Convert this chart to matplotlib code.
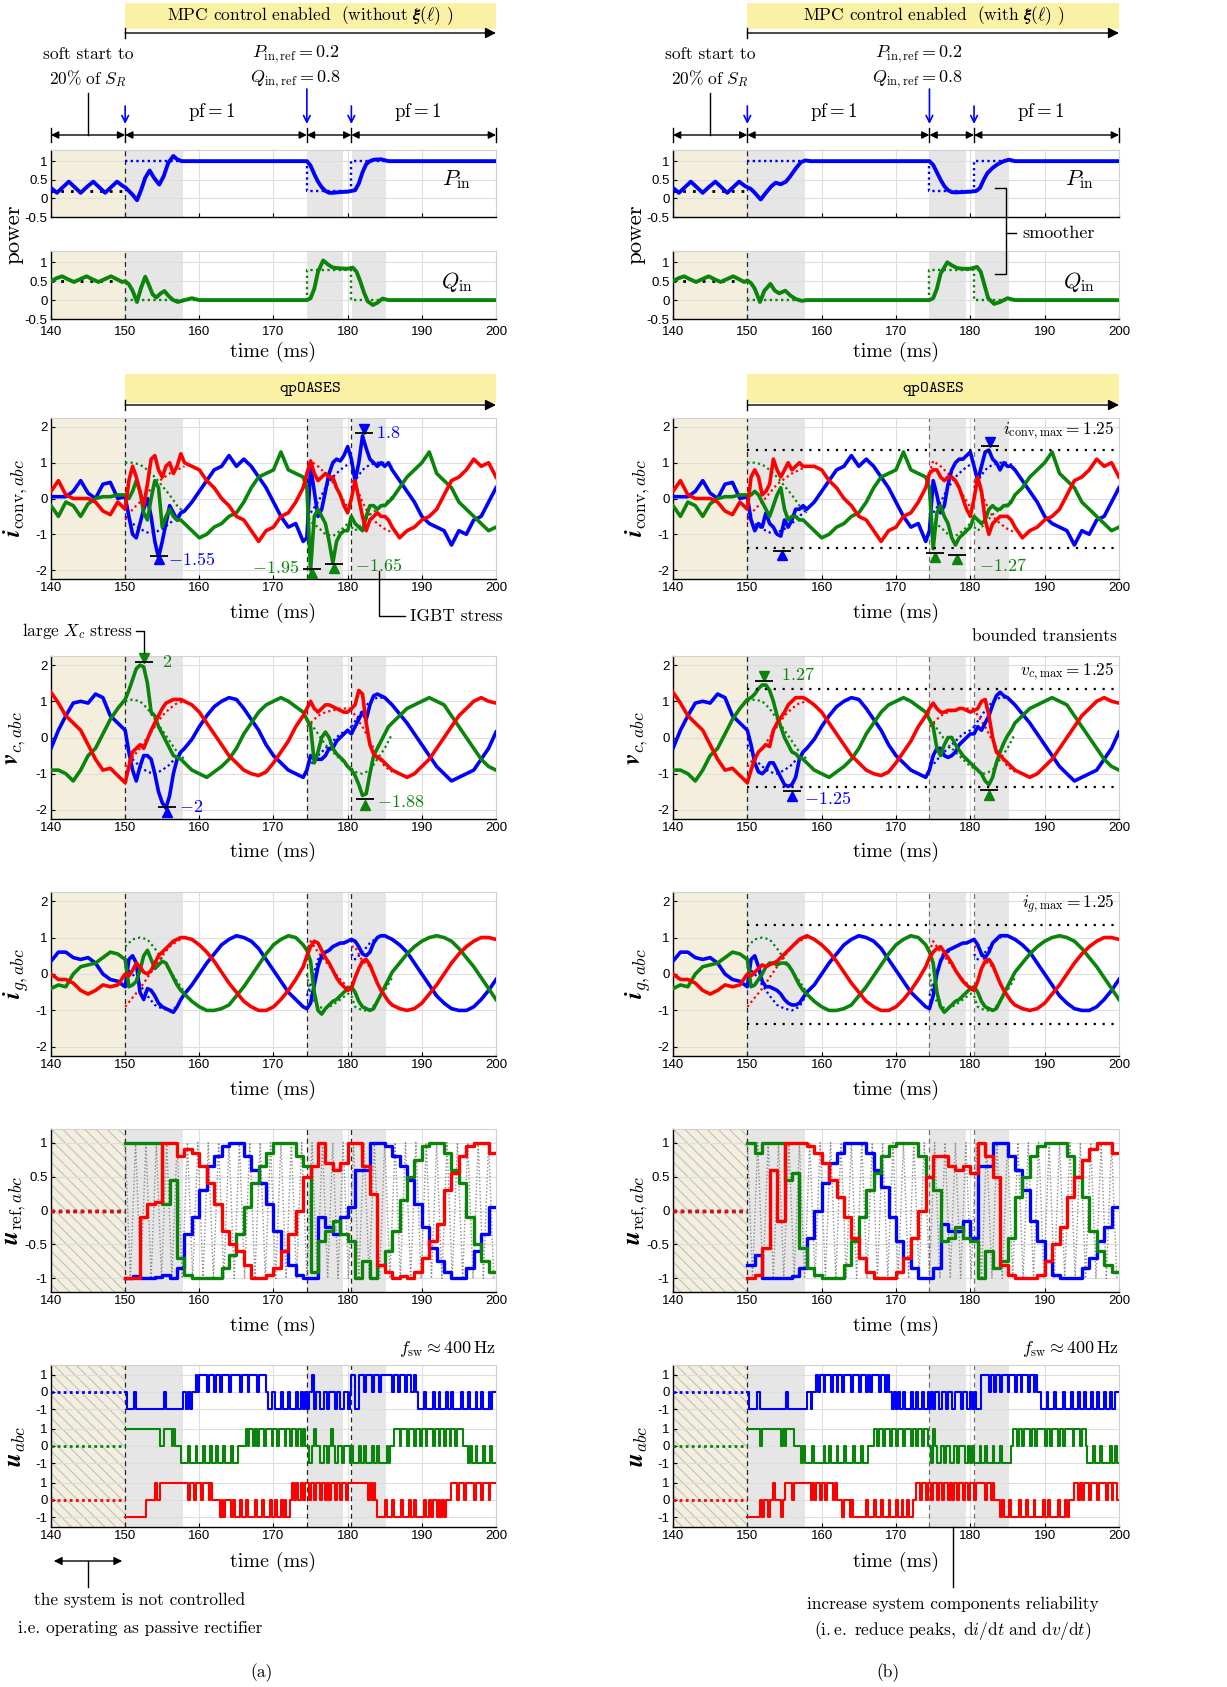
import numpy as np
import matplotlib
matplotlib.use("Agg")
import matplotlib.pyplot as plt
from matplotlib.lines import Line2D
from matplotlib.patches import Rectangle, FancyArrowPatch
from matplotlib.transforms import blended_transform_factory

plt.rcParams["font.family"] = ["Liberation Sans Narrow", "Liberation Sans", "DejaVu Sans"]
plt.rcParams["mathtext.fontset"] = "cm"
plt.rcParams["axes.unicode_minus"] = False
plt.rcParams["hatch.linewidth"] = 0.8

# ------------------------------------------------------------------ data
# power traces, (time ms, value)
P_soft = [(140, 0.28), (140.8, 0.15), (141.6, 0.3), (142.4, 0.45), (143.2, 0.3), (144.0, 0.15), (144.8, 0.3),
          (145.7, 0.45), (146.5, 0.3), (147.3, 0.15), (148.1, 0.3), (148.9, 0.45), (149.7, 0.33)]
Q_soft = [(140, 0.5), (140.75, 0.58), (141.5, 0.63), (142.3, 0.55), (143.1, 0.48), (144.0, 0.56), (144.8, 0.63),
          (145.6, 0.55), (146.4, 0.48), (147.3, 0.56), (148.1, 0.63), (148.9, 0.55), (149.6, 0.48)]
P_a_ctrl = [(150, 0.3), (150.5, 0.2), (151.0, 0.1), (151.6, -0.05), (152.2, 0.25), (152.7, 0.55), (153.3, 0.75),
            (153.9, 0.55), (154.6, 0.37), (155.2, 0.6), (155.8, 0.95), (156.5, 1.14), (157.0, 1.05), (157.6, 1.0),
            (158.5, 1.0), (174.5, 1.0), (175.0, 0.88), (175.5, 0.65), (176.0, 0.45), (176.5, 0.3), (177.0, 0.2),
            (177.5, 0.15), (178.0, 0.15), (179.0, 0.17), (180.0, 0.18), (180.5, 0.2), (181.0, 0.22), (181.5, 0.4),
            (182.0, 0.7), (182.5, 0.92), (183.0, 1.0), (183.5, 1.04), (184.5, 1.05), (185.5, 1.0), (200, 1.0)]
Q_a_ctrl = [(150, 0.5), (150.5, 0.42), (151.0, 0.25), (151.6, -0.05), (152.1, 0.3), (152.7, 0.62), (153.2, 0.4),
            (153.7, 0.15), (154.2, 0.07), (154.8, 0.18), (155.3, 0.24), (155.9, 0.1), (156.5, 0.0), (157.1, -0.05),
            (158, 0.0), (159, 0.05), (160, 0.0), (174.5, 0.0), (175, 0.05), (175.5, 0.3), (176, 0.75), (176.7, 1.05),
            (177.3, 0.95), (178, 0.86), (179, 0.84), (180, 0.83), (180.7, 0.86), (181.2, 0.75), (181.7, 0.5),
            (182.2, 0.2), (182.7, -0.03), (183.4, -0.13), (184, -0.07), (184.7, 0.04), (185.5, 0.0), (200, 0.0)]
P_b_ctrl = [(150, 0.3), (150.5, 0.25), (151.0, 0.15), (151.8, -0.03), (152.5, 0.15), (153.2, 0.32), (153.8, 0.42),
            (154.5, 0.38), (155.2, 0.45), (155.8, 0.6), (156.5, 0.8), (157.2, 0.97), (157.8, 1.02), (158.5, 1.0),
            (174.5, 1.0), (175, 0.9), (175.5, 0.7), (176, 0.5), (176.5, 0.33), (177, 0.22), (177.5, 0.17),
            (178, 0.16), (179, 0.17), (180, 0.18), (180.8, 0.2), (181.3, 0.28), (181.8, 0.5), (182.3, 0.68),
            (183, 0.82), (183.7, 0.92), (184.5, 1.0), (185.2, 1.04), (186, 1.0), (200, 1.0)]
Q_b_ctrl = [(150, 0.52), (150.5, 0.45), (151, 0.3), (151.7, -0.05), (152.3, 0.25), (153.1, 0.43), (153.7, 0.25),
            (154.3, 0.18), (155.1, 0.25), (155.8, 0.12), (156.5, 0.03), (157.3, -0.02), (158, 0.0), (174.5, 0.0),
            (175, 0.05), (175.5, 0.3), (176, 0.7), (176.9, 1.0), (177.5, 0.92), (178.2, 0.85), (179, 0.83),
            (180, 0.83), (180.9, 0.88), (181.4, 0.75), (181.9, 0.4), (182.4, 0.05), (183.2, -0.1), (184, -0.05),
            (185, 0.05), (186, 0.0), (200, 0.0)]
ref_switch = [150, 174.5, 180.5, 200]
P_ref_level = [1.0, 0.2, 1.0]
Q_ref_level = [0.0, 0.8, 0.0]
P_soft_ref = 0.2
Q_soft_ref = 0.5

# sample grid of the phase waveforms: 140..150 (1 ms), 150.5..158 (0.5), 159..174 (1), 174.5..186 (0.5), 187..200 (1)
T_W = np.concatenate([np.arange(140, 150.1, 1.0), np.arange(150.5, 158.1, 0.5), np.arange(159, 174.1, 1.0),
                      np.arange(174.5, 186.1, 0.5), np.arange(187, 200.1, 1.0)])

# converter currents
ic_pre_blue = [0.05, 0.05, 0.05, 0.2, 0.5, 0.15, 0.0, 0.4, 0.45, 0.0, 0.05]
ic_pre_green = [-0.2, -0.5, -0.1, -0.2, -0.5, -0.15, 0.0, 0.05, 0.05, 0.1, 0.1]
ic_pre_red = [0.2, 0.5, 0.1, 0.0, 0.0, 0.0, -0.1, -0.35, -0.45, -0.1, -0.3]
ic_mid_blue = [-0.1, 0.2, 0.5, 0.8, 0.9, 1.2, 0.9, 1.1, 0.9, 0.6, 0.3, -0.1, -0.5, -0.8, -0.7, -1.2]
ic_mid_green = [-0.9, -1.1, -1.0, -0.8, -0.7, -0.5, -0.4, -0.1, 0.3, 0.6, 0.7, 0.8, 1.3, 0.8, 0.7, 0.6]
ic_mid_red = [0.9, 0.8, 0.5, 0.3, 0.0, -0.2, -0.5, -0.6, -0.9, -1.2, -0.9, -0.8, -0.5, -0.4, -0.1, 0.3]
ic_end_blue = [0.5, 0.2, -0.1, -0.5, -0.7, -0.8, -0.9, -1.3, -0.9, -1.0, -0.6, -0.5, -0.1, 0.3]
ic_end_green = [0.3, 0.6, 0.8, 1.0, 1.3, 0.7, 0.5, 0.3, -0.1, -0.3, -0.5, -0.7, -0.9, -0.8]
ic_end_red = [-1.1, -0.9, -0.8, -0.6, -0.5, -0.3, 0.1, 0.5, 0.6, 0.8, 1.1, 0.9, 1.0, 0.6]
ic_a_tr1_blue = [-0.5, -1.0, -1.1, -0.7, -0.3, 0.0, -0.5, -1.2, -1.65, -1.2, -0.7, -0.2, -0.4, -0.6, -0.4, -0.35]
ic_a_tr1_green = [0.0, 0.2, 0.5, 0.2, -0.4, -0.6, 0.0, 0.5, 0.3, -0.8, -0.5, -0.3, -0.5, -0.6, -0.6, -0.7]
ic_a_tr1_red = [0.5, 0.9, 0.6, 0.2, -0.2, 0.4, 1.1, 1.2, 0.8, 0.6, 0.9, 1.0, 0.7, 0.9, 1.25, 1.0]
ic_a_tr2_blue = [-1.1, 0.9, 0.2, -0.5, -0.3, 0.2, 0.7, 1.0, 1.1, 1.05, 1.2, 1.45, 1.1, 0.5, 1.0, 1.75, 1.4, 1.1,
                 1.0, 0.9, 1.0, 0.9, 1.0, 0.8]
ic_a_tr2_green = [0.3, -2.0, -0.5, -0.3, -0.5, -0.7, -1.2, -1.8, -1.2, -1.0, -0.9, -0.9, -0.5, -0.7, -0.8, -0.9,
                  -0.5, -0.2, -0.2, -0.3, -0.2, -0.2, -0.1, 0.0]
ic_a_tr2_red = [0.7, 1.05, 0.7, 0.5, 0.6, 0.7, 0.6, 0.6, 0.3, 0.1, -0.2, -0.4, 0.0, 0.5, 0.0, -0.5, -0.9, -0.6,
                -0.5, -0.4, -0.5, -0.5, -0.6, -0.8]
ic_b_tr1_blue = [-0.6, -0.9, -0.7, -0.8, -0.4, -0.7, -0.8, -1.0, -1.05, -0.6, -0.8, -0.6, -0.3, -0.3, -0.2, -0.3]
ic_b_tr1_green = [0.1, 0.2, 0.1, -0.1, -0.3, -0.5, -0.2, 0.1, 0.3, -0.3, -0.6, -0.5, -0.5, -0.6, -0.6, -0.7]
ic_b_tr1_red = [0.6, 0.8, 0.6, 0.1, 0.2, 0.4, 1.1, 0.8, 0.6, 0.8, 1.0, 0.8, 0.9, 1.0, 0.9, 0.9]
ic_b_tr2_blue = [-0.9, 0.5, 0.1, -0.4, -0.2, 0.4, 0.8, 1.0, 1.1, 1.1, 1.2, 1.3, 0.9, 0.5, 0.9, 1.3, 1.35, 1.1,
                 1.0, 0.8, 1.0, 0.9, 0.9, 0.8]
ic_b_tr2_green = [0.3, -1.4, -0.4, -0.2, -0.5, -0.7, -1.1, -1.3, -1.1, -1.0, -0.9, -0.8, -0.5, -0.6, -0.7, -0.6,
                  -0.3, -0.2, -0.3, -0.3, -0.2, -0.2, -0.1, 0.1]
ic_b_tr2_red = [0.7, 0.8, 0.8, 0.6, 0.5, 0.6, 0.6, 0.5, 0.3, 0.0, -0.3, -0.5, 0.0, 0.6, 0.2, -0.6, -1.0, -0.7,
                -0.6, -0.5, -0.5, -0.5, -0.6, -0.8]

# capacitor voltages
vc_pre_blue = [-0.3, 0.2, 0.6, 0.95, 1.0, 0.95, 1.2, 1.1, 0.6, 0.4, 0.2]
vc_pre_green = [-0.9, -0.9, -1.0, -1.2, -0.9, -0.5, -0.3, 0.1, 0.5, 0.8, 1.05]
vc_pre_red = [1.25, 0.95, 0.6, 0.4, 0.2, -0.2, -0.6, -0.9, -0.85, -1.05, -1.25]
vc_mid_blue = [-0.05, 0.3, 0.6, 0.85, 1.0, 1.1, 1.05, 0.8, 0.5, 0.2, -0.2, -0.5, -0.7, -0.9, -1.0, -1.1]
vc_mid_green = [-0.9, -1.0, -1.1, -0.95, -0.8, -0.6, -0.3, 0.1, 0.4, 0.7, 0.9, 1.0, 1.1, 1.0, 0.85, 0.7]
vc_mid_red = [0.9, 0.7, 0.4, 0.1, -0.2, -0.5, -0.7, -0.9, -1.0, -1.05, -0.95, -0.7, -0.4, -0.1, 0.3, 0.6]
vc_end_blue = [0.65, 0.4, 0.1, -0.2, -0.5, -0.8, -1.0, -1.2, -1.1, -1.0, -0.9, -0.6, -0.3, 0.15]
vc_end_green = [0.6, 0.8, 0.9, 1.0, 1.1, 1.0, 0.9, 0.6, 0.3, 0.0, -0.3, -0.6, -0.8, -0.9]
vc_end_red = [-1.0, -1.1, -1.0, -0.8, -0.6, -0.3, 0.0, 0.3, 0.6, 0.8, 1.0, 1.1, 1.0, 0.95]
vc_a_tr1_blue = [-0.4, -0.9, -1.2, -0.8, -0.5, -0.5, -0.6, -1.0, -1.5, -1.8, -1.95, -1.6, -1.0, -0.6, -0.4, -0.3]
vc_a_tr1_green = [1.3, 1.6, 1.9, 2.0, 1.95, 1.5, 0.7, 0.6, 0.3, 0.1, -0.1, -0.3, -0.5, -0.55, -0.6, -0.7]
vc_a_tr1_red = [-0.8, -0.4, -0.3, -0.2, -0.3, -0.05, 0.2, 0.4, 0.6, 0.8, 0.95, 1.0, 1.05, 1.05, 1.05, 1.0]
vc_a_tr2_blue = [-0.9, -0.5, -0.6, -0.6, -0.6, -0.5, -0.3, -0.3, -0.1, 0.0, 0.1, 0.2, 0.1, 0.3, 0.5, 0.7, 0.5, 0.9,
                 1.15, 1.2, 1.15, 1.1, 1.0, 0.9]
vc_a_tr2_green = [0.5, 0.3, -0.7, -0.4, 0.0, 0.15, 0.0, -0.3, -0.45, -0.55, -0.65, -0.8, -0.9, -1.05, -1.3, -1.6,
                  -1.55, -1.0, -0.5, -0.3, -0.1, 0.1, 0.3, 0.4]
vc_a_tr2_red = [0.8, 1.0, 0.8, 0.7, 0.8, 0.9, 0.9, 0.85, 0.8, 0.75, 0.7, 0.7, 0.8, 0.9, 1.3, 1.2, 0.4, -0.2, -0.45,
                -0.55, -0.6, -0.7, -0.8, -0.9]
vc_b_tr1_blue = [-0.2, -0.7, -0.95, -1.0, -0.9, -0.7, -0.7, -0.9, -1.1, -1.3, -1.35, -1.3, -1.1, -0.6, -0.4, -0.3]
vc_b_tr1_green = [1.1, 1.2, 1.35, 1.45, 1.45, 1.3, 1.0, 0.6, 0.3, 0.0, -0.2, -0.4, -0.45, -0.55, -0.6, -0.7]
vc_b_tr1_red = [-0.9, -0.6, -0.4, -0.3, -0.2, -0.25, 0.2, 0.4, 0.55, 0.7, 0.9, 1.0, 1.1, 1.1, 1.1, 1.05]
vc_b_tr2_blue = [-0.9, -0.5, -0.3, -0.3, -0.5, -0.55, -0.5, -0.4, -0.2, -0.1, 0.0, 0.1, 0.1, 0.3, 0.2, 0.4, 0.6,
                 0.9, 1.15, 1.25, 1.15, 1.1, 1.0, 0.9]
vc_b_tr2_green = [0.5, 0.3, -0.3, -0.5, -0.2, 0.0, 0.0, -0.2, -0.35, -0.5, -0.6, -0.7, -0.8, -0.9, -1.0, -1.2,
                  -1.3, -1.1, -0.7, -0.4, -0.15, 0.05, 0.2, 0.4]
vc_b_tr2_red = [0.8, 0.95, 0.8, 0.7, 0.7, 0.75, 0.75, 0.75, 0.8, 0.8, 0.75, 0.7, 0.75, 0.8, 1.0, 1.05, 0.6, 0.0,
                -0.4, -0.5, -0.6, -0.7, -0.8, -0.9]

# grid currents
ig_pre_blue = [0.35, 0.6, 0.6, 0.45, 0.4, 0.45, 0.3, 0.0, -0.15, -0.2, -0.35]
ig_pre_green = [-0.4, -0.3, -0.35, 0.0, 0.2, 0.25, 0.3, 0.45, 0.6, 0.55, 0.4]
ig_pre_red = [0.0, -0.15, -0.15, -0.25, -0.45, -0.55, -0.45, -0.3, -0.35, -0.3, 0.0]
ig_mid_blue = [-0.3, 0.0, 0.3, 0.55, 0.8, 0.95, 1.05, 1.0, 0.9, 0.7, 0.4, 0.1, -0.2, -0.5, -0.7, -0.9]
ig_mid_green = [-0.75, -0.9, -1.0, -1.0, -0.95, -0.85, -0.6, -0.35, -0.05, 0.25, 0.55, 0.8, 0.95, 1.05, 1.0, 0.8]
ig_mid_red = [0.95, 0.8, 0.6, 0.35, 0.05, -0.25, -0.5, -0.75, -0.9, -1.0, -1.0, -0.9, -0.7, -0.45, -0.15, 0.2]
ig_end_blue = [0.8, 0.6, 0.3, 0.0, -0.3, -0.6, -0.8, -0.95, -1.0, -1.0, -0.9, -0.7, -0.45, -0.15]
ig_end_green = [0.3, 0.55, 0.75, 0.9, 1.0, 1.05, 1.0, 0.9, 0.7, 0.45, 0.2, -0.1, -0.4, -0.7]
ig_end_red = [-0.95, -1.0, -0.95, -0.8, -0.55, -0.3, 0.0, 0.3, 0.55, 0.75, 0.9, 1.0, 1.0, 0.95]
ig_a_tr1_blue = [0.4, 0.5, 0.3, -0.5, -0.7, -0.4, -0.45, -0.6, -0.8, -0.9, -0.95, -1.0, -1.05, -0.9, -0.7, -0.55]
ig_a_tr1_green = [-0.35, -0.3, -0.2, 0.1, 0.5, 0.65, 0.4, 0.15, 0.25, 0.35, 0.3, 0.1, -0.1, -0.3, -0.45, -0.55]
ig_a_tr1_red = [-0.05, 0.1, 0.3, 0.2, 0.05, 0.0, 0.1, 0.3, 0.5, 0.6, 0.7, 0.8, 0.9, 0.95, 1.0, 1.0]
ig_a_tr2_blue = [-0.95, -0.8, -0.3, 0.2, 0.5, 0.6, 0.65, 0.75, 0.8, 0.85, 0.85, 0.9, 0.95, 0.9, 0.75, 0.55, 0.5,
                 0.6, 0.85, 1.0, 1.05, 1.05, 1.0, 0.95]
ig_a_tr2_green = [0.65, 0.35, -0.5, -1.0, -1.1, -0.95, -0.85, -0.75, -0.7, -0.6, -0.5, -0.4, -0.35, -0.5, -0.75,
                  -0.9, -0.95, -1.0, -0.95, -0.75, -0.55, -0.35, -0.15, 0.05]
ig_a_tr2_red = [0.5, 0.75, 0.9, 0.85, 0.65, 0.45, 0.3, 0.1, -0.1, -0.25, -0.35, -0.45, -0.4, -0.1, 0.15, 0.35, 0.4,
                0.25, 0.0, -0.25, -0.45, -0.6, -0.75, -0.85]
ig_b_tr1_blue = [0.4, 0.5, 0.2, -0.2, -0.35, -0.35, -0.4, -0.45, -0.55, -0.7, -0.8, -0.85, -0.85, -0.8, -0.65, -0.5]
ig_b_tr1_green = [-0.35, -0.3, -0.15, 0.0, 0.2, 0.3, 0.3, 0.25, 0.3, 0.3, 0.25, 0.1, -0.1, -0.3, -0.45, -0.55]
ig_b_tr1_red = [-0.05, 0.05, 0.15, 0.25, 0.2, 0.25, 0.3, 0.35, 0.45, 0.55, 0.65, 0.75, 0.85, 0.95, 1.0, 1.05]
ig_b_tr2_blue = [-0.95, -0.6, 0.0, 0.35, 0.55, 0.65, 0.7, 0.75, 0.8, 0.85, 0.85, 0.9, 0.95, 0.8, 0.55, 0.45, 0.6,
                 0.85, 0.95, 1.05, 1.05, 1.05, 1.0, 0.95]
ig_b_tr2_green = [0.6, 0.3, -0.5, -0.9, -1.05, -0.95, -0.85, -0.75, -0.7, -0.6, -0.5, -0.4, -0.35, -0.5, -0.75,
                  -0.9, -0.95, -1.0, -0.95, -0.75, -0.55, -0.35, -0.15, 0.05]
ig_b_tr2_red = [0.45, 0.6, 0.7, 0.75, 0.6, 0.45, 0.3, 0.1, -0.05, -0.2, -0.3, -0.4, -0.45, -0.2, 0.15, 0.35, 0.4,
                0.25, 0.0, -0.25, -0.45, -0.6, -0.75, -0.85]

# dotted references during the transients
R1_t = [150, 151, 152, 153, 154, 155, 156, 157, 158]
R2_t = [174.5, 175, 176, 177, 178, 179, 180, 180.5]
R3_t = [180.5, 181, 182, 183, 184, 185, 186]
ic_ref1_blue = [-0.5, -0.7, -0.85, -0.95, -0.95, -0.85, -0.7, -0.5, -0.3]
ic_ref1_green = [1.0, 1.0, 0.95, 0.8, 0.6, 0.35, 0.1, -0.2, -0.4]
ic_ref1_red = [-0.6, -0.3, -0.1, 0.15, 0.4, 0.55, 0.7, 0.8, 0.9]
ic_ref2_blue = [-0.3, -0.4, -0.1, 0.3, 0.6, 0.8, 0.95, 1.0]
ic_ref2_green = [-0.4, -0.65, -0.8, -1.0, -1.05, -0.9, -0.7, -0.6]
ic_ref2_red = [0.7, 1.05, 0.9, 0.7, 0.45, 0.1, -0.25, -0.4]
ic_ref3_blue = [0.3, 0.5, 0.8, 0.95, 1.0, 1.0, 0.9]
ic_ref3_green = [-0.8, -0.9, -0.7, -0.45, -0.3, -0.15, 0.05]
ic_ref3_red = [0.5, 0.4, -0.1, -0.5, -0.7, -0.85, -0.95]
vc_ref1_blue = [-0.2, -0.6, -0.8, -0.95, -1.0, -0.9, -0.75, -0.5, -0.3]
vc_ref1_green = [1.0, 1.05, 1.0, 0.8, 0.5, 0.2, -0.1, -0.4, -0.6]
vc_ref1_red = [-0.8, -0.55, -0.3, 0.0, 0.3, 0.6, 0.8, 0.95, 1.0]
vc_ref2_blue = [-0.8, -0.75, -0.5, -0.3, -0.1, 0.1, 0.2, 0.3]
vc_ref2_green = [0.5, 0.4, 0.1, -0.2, -0.4, -0.6, -0.8, -0.85]
vc_ref2_red = [0.3, 0.4, 0.6, 0.7, 0.75, 0.8, 0.8, 0.8]
vc_ref3_blue = [0.3, 0.45, 0.75, 1.0, 1.1, 1.1, 0.9]
vc_ref3_green = [-0.85, -0.95, -1.0, -0.9, -0.6, -0.3, 0.1]
vc_ref3_red = [0.8, 0.6, 0.3, -0.1, -0.5, -0.8, -0.95]
ig_ref1_blue = [0.2, 0.0, -0.3, -0.6, -0.85, -0.95, -1.0, -0.9, -0.55]
ig_ref1_green = [0.75, 0.95, 1.0, 0.95, 0.7, 0.4, 0.1, -0.2, -0.5]
ig_ref1_red = [-0.9, -0.65, -0.4, -0.1, 0.2, 0.5, 0.75, 0.9, 1.0]
ig_ref2_blue = [-0.6, -0.3, 0.4, 0.6, 0.75, 0.85, 0.9, 0.95]
ig_ref2_green = [0.0, -0.6, -0.9, -0.95, -0.85, -0.7, -0.55, -0.5]
ig_ref2_red = [0.6, 0.9, 0.6, 0.35, 0.1, -0.15, -0.35, -0.45]
ig_ref3_blue = [0.55, 0.4, 0.6, 0.85, 1.0, 1.05, 0.95]
ig_ref3_green = [-0.6, -0.9, -1.0, -1.0, -0.75, -0.45, -0.1]
ig_ref3_red = [0.75, 0.75, 0.35, 0.2, -0.25, -0.6, -0.85]

# modulating references, one value per 1 ms from 150 to 199
T_U = np.arange(150, 201, 1.0)
uref_a_blue = [-1.0, -0.97, -1.0, -1.0, -0.98, -0.95, -1.0, -0.85, -0.35, -0.1, 0.3, 0.65, 0.8, 0.95, 1.0, 1.0, 0.8,
               0.6, 0.4, 0.1, -0.3, -0.6, -0.8, -0.95, -1.0, -1.0, -0.1, -0.25, -0.35, -0.1, 0.05, 0.6, 0.6, 1.0,
               1.0, 0.95, 0.8, 0.65, 0.45, 0.1, -0.25, -0.55, -0.75, -0.9, -1.0, -1.0, -0.85, -0.6, -0.35, 0.05]
uref_a_green = [1.0, 1.0, 1.0, 1.0, 1.0, 0.1, 0.45, -0.7, -0.95, -1.0, -1.0, -1.0, -1.0, -0.85, -0.65, -0.35, 0.05,
                0.4, 0.65, 0.85, 1.0, 1.0, 1.0, 0.8, 0.65, -0.9, -0.45, -0.3, -0.15, -0.35, -0.45, -1.0, -0.75,
                -1.0, -0.8, -0.6, -0.3, 0.15, 0.5, 0.75, 0.95, 1.0, 1.0, 0.85, 0.6, 0.4, -0.1, -0.5, -0.75, -0.9]
uref_a_red = [-1.0, -1.0, -0.1, 0.1, 0.12, 1.0, 1.0, 0.8, 0.9, 0.85, 0.65, 0.4, 0.1, -0.3, -0.5, -0.6, -0.8, -1.0,
              -1.0, -0.95, -0.85, -0.6, -0.35, 0.0, 0.5, 0.65, 1.0, 0.7, 0.6, 0.7, 1.0, 1.0, 0.65, 0.25, -0.8,
              -0.9, -1.0, -0.97, -1.0, -0.9, -0.7, -0.45, -0.2, 0.3, 0.55, 0.8, 0.95, 1.0, 1.0, 0.85]
uref_b_blue = [-0.8, -0.65, -1.0, -1.0, -1.0, -1.0, -0.97, -0.85, -0.4, 0.0, 0.4, 0.7, 0.85, 1.0, 1.0, 1.0, 0.85,
               0.6, 0.35, -0.1, -0.45, -0.7, -0.85, -1.0, -1.0, -0.85, -0.2, -0.3, -0.3, -0.15, -0.4, 0.65, 0.65,
               1.0, 1.0, 0.8, 0.6, 0.3, -0.15, -0.45, -0.75, -0.95, -1.0, -1.0, -1.0, -0.85, -0.7, -0.45, -0.25, 0.05]
uref_b_green = [1.0, 0.85, 1.0, 1.0, 1.0, 0.45, 0.55, -0.55, -0.85, -0.95, -1.0, -1.0, -1.0, -0.8, -0.45, -0.1, 0.3,
                0.55, 0.8, 0.95, 1.0, 1.0, 1.0, 0.8, 0.5, 0.3, -0.45, -0.4, -0.25, -0.4, -0.45, -1.0, -0.6, -0.85,
                -0.75, -0.4, 0.2, 0.5, 0.8, 0.95, 1.0, 1.0, 1.0, 0.8, 0.5, 0.2, -0.3, -0.6, -0.8, -0.9]
uref_b_red = [-1.0, -0.95, -0.55, 0.6, -0.15, 1.0, 1.0, 1.0, 0.95, 0.85, 0.7, 0.45, 0.2, -0.1, -0.4, -0.7, -0.9,
              -1.0, -1.0, -1.0, -0.9, -0.7, -0.4, 0.0, 0.5, 0.8, 0.8, 0.65, 0.6, 0.65, 0.55, 1.0, 0.8, 0.5, -0.8,
              -0.95, -1.0, -1.0, -1.0, -0.95, -0.75, -0.5, -0.25, 0.2, 0.5, 0.75, 0.9, 1.0, 1.0, 0.85]
# gray dotted carrier behind the references: corner times (ms) and levels
carrier_t = [150.0, 150.7, 151.4, 152.1, 152.8, 153.5, 154.2, 154.9, 155.6, 156.3, 157.0, 157.7, 158.4, 159.1,
             159.8, 160.5, 161.2, 161.9, 162.6, 163.3, 164.0, 164.7, 165.4, 166.1, 166.8, 167.5, 168.2, 168.9,
             169.6, 170.3, 171.0, 171.7, 172.4, 173.1, 173.8, 174.5, 175.2, 175.9, 176.6, 177.3, 178.0, 178.7,
             179.4, 180.1, 180.8, 181.5, 182.2, 182.9, 183.6, 184.3, 185.0, 185.7, 186.4, 187.1, 187.8, 188.5,
             189.2, 189.9, 190.6, 191.3, 192.0, 192.7, 193.4, 194.1, 194.8, 195.5, 196.2, 196.9, 197.6, 198.3,
             199.0, 199.7]
carrier_v = [1, -1] * 36

# switch positions, one character per 0.25 ms from 150 ms ('+' = 1, '0' = 0, '-' = -1)
U_STEP = 0.25
u_a_blue = ("0----0--------------" "-0---------00-0-00+0" "++++0+++0++0++++0+++" "++0+++0++++0++++0--0"
            "0---0---0---0--0-0-0" "0+-00--00-000-00--00" "-0++--+++0+++0+++0++" "++++0++0+++0++00+0--"
            "-0----0--0---0--0---" "-0---0---0--0---0-00")
u_a_green = ("+++++++++++++++++++0" "0++++0+000----0---0-" "--0---0--0---0---0--" "-0000+0++0+0+++0+++0"
             "++0+++0++0++0++0+00-" "-0+00--00-0+0--00-00" "0-0---0--0---0--0---" "-0-00+++0+++0+++0++0"
             "++0+++0++0++0++0++0+" "++000-0--0---0---0--")
u_a_red = ("-----------00000+00+" "++++++++++++++0++0++" "+0+++0+0000-0-000-0-" "--0--0----0---0---0-"
           "-0--0-0--0+0+00+0++0" "++0++0++0+0++0++0++0" "+++++++++++0+0+0----" "0---0----0---0--0---"
           "-0--0-00-0-0-000+++0" "+++0++++0+++0+++0+++")
u_b_blue = ("0----00-------------" "-0----------00-00+0+" "+0+++0++0++0++++0+++" "0+++0+0++++0++0+00-0"
            "-0--0---0--0--0--0-0" "-00--00-00--000-00--" "0-0---++++0++0++0+++" "0+++0++0+++0++0+00--"
            "-0---0----0---0---0-" "-0---0--0---0--0--00")
u_b_green = ("+++++++0++++++++++0+" "0++++0000-0----0----" "-0--0---0---0----0--" "-0---000++0++0+++0++"
             "0+++0+++0++0++0++00-" "+0--00-00--00-000--0" "-0---0--0---0---0---" "--0++0++0+++0++0++++"
             "0++0+++0++0++++0+++0" "++0---0---0----0--0-")
u_b_red = ("-------0-00-00+000-0" "++++0+++++++++0+0++0" "++0+++0+000-000-0---" "----0---0---0---0---"
           "0--0--0--00++0++0++0" "++0++0++0+0++0++0++0" "++0+++++0++0+000-0--" "-0----0---0---0----0"
           "--0----0---0-000++0+" "0+++0+++0++++0++0++0")
U_OFFSET = [3.1, 0.0, -3.1]

# ------------------------------------------------------------------ layout
W, H = 1227, 1687
BLUE, GREEN, RED = "#0000ff", "#0b840b", "#ff0000"
BEIGE, SHADE, BANNER = "#f4efdc", "#e6e6e6", "#faf1a4"
HATCH = "#bcc0cd"
SERIF = "cmr10"
COLX = {"a": (51, 496), "b": (673, 1119)}
ROWY = {"P": (150, 217), "Q": (251, 319), "ic": (418, 579), "vc": (656, 819), "ig": (892, 1056),
        "ur": (1129, 1292), "ua": (1365, 1527)}
GRAY_SPANS = [(150, 157.8), (174.5, 179.4), (180.6, 185.2)]

fig = plt.figure(figsize=(W / 100, H / 100), dpi=100)


def fy(ypx):
    return 1 - ypx / H


def new_axes(col, row):
    x0, x1 = COLX[col]
    y0, y1 = ROWY[row]
    return fig.add_axes([x0 / W, 1 - y1 / H, (x1 - x0) / W, (y1 - y0) / H])


def style(ax, yticks, ylabels, ylim, dashed, dash_color, hatch=False, xlabels=True):
    ax.set_xlim(140, 200)
    ax.set_ylim(*ylim)
    ax.set_xticks(np.arange(140, 201, 10))
    if not xlabels:
        ax.set_xticklabels([])
    ax.set_yticks(yticks)
    ax.set_yticklabels(ylabels)
    ax.grid(True, color="0.87", lw=0.8)
    ax.set_axisbelow(True)
    ax.tick_params(direction="in", length=3, labelsize=9.5, pad=2.5)
    for s in ("top", "right"):
        ax.spines[s].set_color("0.82")
        ax.spines[s].set_linewidth(0.8)
    for s in ("left", "bottom"):
        ax.spines[s].set_linewidth(1.0)
    if hatch:
        ax.add_patch(Rectangle((140, ylim[0]), 10, ylim[1] - ylim[0], facecolor=BEIGE, edgecolor=HATCH,
                               hatch="\\\\\\", lw=0, zorder=0.1))
    else:
        ax.axvspan(140, 150, color=BEIGE, lw=0, zorder=0.1)
    for a, b in GRAY_SPANS:
        ax.axvspan(a, b, color=SHADE, lw=0, zorder=0.1)
    for i, x in enumerate(dashed):
        ax.axvline(x, color="0.15" if i == 0 else dash_color, ls=(0, (4, 3)), lw=0.9, zorder=1)


def peak(ax, t, ytri, ybar, color, up=True):
    ax.plot([t], [ytri], marker="^" if up else "v", color=color, ms=7, zorder=6, clip_on=False)
    ax.plot([t], [ybar], marker="_", color="k", ms=13, mew=1.3, zorder=6, clip_on=False)


def phases(ax, parts, refs, lw=2.6):
    for col, vals in zip((BLUE, GREEN, RED), parts):
        ax.plot(T_W, vals, color=col, lw=lw, zorder=3, solid_joinstyle="round")
    for (tt, rb, rg, rr) in refs:
        for col, rv in zip((BLUE, GREEN, RED), (rb, rg, rr)):
            ax.plot(tt, rv, color=col, lw=1.6, ls=(0, (1, 1.4)), zorder=2.5)


def ftext(x, y, s, **kw):
    kw.setdefault("ha", "center")
    kw.setdefault("va", "center")
    fig.text(x / W, fy(y), s, **kw)


def fline(xs, ys, **kw):
    fig.add_artist(Line2D([x / W for x in xs], [fy(y) for y in ys], color=kw.pop("color", "k"),
                          lw=kw.pop("lw", 1.0), **kw))


for col in ("a", "b"):
    cx = sum(COLX[col]) / 2
    lab_x = 14 if col == "a" else 636
    dash_col = "0.15" if col == "a" else "0.45"

    # ---------------- power
    axP = new_axes(col, "P")
    axQ = new_axes(col, "Q")
    for ax in (axP, axQ):
        style(ax, [-0.5, 0, 0.5, 1], ["-0.5", "0", "0.5", "1"], (-0.5, 1.3), [150], dash_col,
              xlabels=(ax is axQ))
    axQ.tick_params(axis="x", pad=5)
    Pc = P_a_ctrl if col == "a" else P_b_ctrl
    Qc = Q_a_ctrl if col == "a" else Q_b_ctrl
    for ax, soft, ctrl, lev, sref, colr in ((axP, P_soft, Pc, P_ref_level, P_soft_ref, BLUE),
                                            (axQ, Q_soft, Qc, Q_ref_level, Q_soft_ref, GREEN)):
        ax.plot([140, 150], [sref, sref], color="k", ls=(0, (1, 2.5)), lw=2, zorder=2)
        ax.step(ref_switch, lev + [lev[-1]], where="post", color=colr, ls=(0, (1, 1.4)), lw=1.7, zorder=2)
        pts = soft + ctrl
        ax.plot([p[0] for p in pts], [p[1] for p in pts], color=colr, lw=2.8, zorder=3)
    axP.text(194.7, 0.5, r"$P_{\mathrm{in}}$", fontsize=16, ha="center", va="center")
    axQ.text(194.7, 0.48, r"$Q_{\mathrm{in}}$", fontsize=16, ha="center", va="center")
    ftext(lab_x, 234, "power", fontfamily=SERIF, fontsize=16.5, rotation=90)
    ftext(cx, 352, "time (ms)", fontfamily=SERIF, fontsize=14.5)

    tr = blended_transform_factory(axP.transData, fig.transFigure)
    xi = r"$\mathbfit{\xi}(\ell)$"
    title = ("MPC control enabled  (without " if col == "a" else "MPC control enabled  (with ") + xi + " )"
    axP.add_artist(Rectangle((150, fy(29)), 50, 26 / H, transform=tr, facecolor=BANNER, lw=0, clip_on=False))
    axP.text(175, fy(16), title, transform=tr, fontfamily=SERIF, fontsize=12.5, ha="center", va="center")
    axP.annotate("", xy=(200, fy(33)), xytext=(150, fy(33)), xycoords=tr, textcoords=tr,
                 arrowprops=dict(arrowstyle="-|>", color="k", lw=1.0, mutation_scale=16, shrinkA=0, shrinkB=0))
    axP.add_artist(Line2D([150, 150], [fy(28), fy(38)], transform=tr, color="k", lw=1.0, clip_on=False))
    # segments
    bounds = [140, 150, 174.5, 180.5, 200]
    for a, b in zip(bounds[:-1], bounds[1:]):
        axP.annotate("", xy=(b, fy(135)), xytext=(a, fy(135)), xycoords=tr, textcoords=tr,
                     arrowprops=dict(arrowstyle="<|-|>", color="k", lw=1.0, mutation_scale=11,
                                     shrinkA=0, shrinkB=0))
    for x in bounds:
        axP.add_artist(Line2D([x, x], [fy(128), fy(142)], transform=tr, color="k", lw=1.0, clip_on=False))
    for x, ytop in ((150, 106), (174.5, 89), (180.5, 106)):
        axP.annotate("", xy=(x, fy(124)), xytext=(x, fy(ytop)), xycoords=tr, textcoords=tr,
                     arrowprops=dict(arrowstyle="->", color=BLUE, lw=1.2, mutation_scale=12,
                                     shrinkA=0, shrinkB=0))
    axP.add_artist(Line2D([145, 145], [fy(93), fy(135)], transform=tr, color="k", lw=1.0, clip_on=False))
    axP.text(145, fy(54), "soft start to", transform=tr, fontfamily=SERIF, fontsize=12.5, ha="center", va="center")
    axP.text(145, fy(79), r"$20\%\ \mathrm{of}\ S_R$", transform=tr, fontsize=12.5, ha="center", va="center")
    axP.text(179.0, fy(54), r"$P_{\mathrm{in,ref}} = 0.2$", transform=tr, fontsize=13, ha="right", va="center")
    axP.text(179.0, fy(79), r"$Q_{\mathrm{in,ref}} = 0.8$", transform=tr, fontsize=13, ha="right", va="center")
    for x in (161.6, 189.4):
        axP.text(x, fy(112), r"$\mathrm{pf} = 1$", transform=tr, fontsize=13.5, ha="center", va="center")

    # ---------------- phase quantities
    is_a = col == "a"
    wave = {}
    wave["ic"] = [ic_pre_blue + (ic_a_tr1_blue if is_a else ic_b_tr1_blue) + ic_mid_blue
                  + (ic_a_tr2_blue if is_a else ic_b_tr2_blue) + ic_end_blue,
                  ic_pre_green + (ic_a_tr1_green if is_a else ic_b_tr1_green) + ic_mid_green
                  + (ic_a_tr2_green if is_a else ic_b_tr2_green) + ic_end_green,
                  ic_pre_red + (ic_a_tr1_red if is_a else ic_b_tr1_red) + ic_mid_red
                  + (ic_a_tr2_red if is_a else ic_b_tr2_red) + ic_end_red]
    wave["vc"] = [vc_pre_blue + (vc_a_tr1_blue if is_a else vc_b_tr1_blue) + vc_mid_blue
                  + (vc_a_tr2_blue if is_a else vc_b_tr2_blue) + vc_end_blue,
                  vc_pre_green + (vc_a_tr1_green if is_a else vc_b_tr1_green) + vc_mid_green
                  + (vc_a_tr2_green if is_a else vc_b_tr2_green) + vc_end_green,
                  vc_pre_red + (vc_a_tr1_red if is_a else vc_b_tr1_red) + vc_mid_red
                  + (vc_a_tr2_red if is_a else vc_b_tr2_red) + vc_end_red]
    wave["ig"] = [ig_pre_blue + (ig_a_tr1_blue if is_a else ig_b_tr1_blue) + ig_mid_blue
                  + (ig_a_tr2_blue if is_a else ig_b_tr2_blue) + ig_end_blue,
                  ig_pre_green + (ig_a_tr1_green if is_a else ig_b_tr1_green) + ig_mid_green
                  + (ig_a_tr2_green if is_a else ig_b_tr2_green) + ig_end_green,
                  ig_pre_red + (ig_a_tr1_red if is_a else ig_b_tr1_red) + ig_mid_red
                  + (ig_a_tr2_red if is_a else ig_b_tr2_red) + ig_end_red]
    refs = {"ic": [(R1_t, ic_ref1_blue, ic_ref1_green, ic_ref1_red), (R2_t, ic_ref2_blue, ic_ref2_green, ic_ref2_red),
                   (R3_t, ic_ref3_blue, ic_ref3_green, ic_ref3_red)],
            "vc": [(R1_t, vc_ref1_blue, vc_ref1_green, vc_ref1_red), (R2_t, vc_ref2_blue, vc_ref2_green, vc_ref2_red),
                   (R3_t, vc_ref3_blue, vc_ref3_green, vc_ref3_red)],
            "ig": [(R1_t, ig_ref1_blue, ig_ref1_green, ig_ref1_red), (R2_t, ig_ref2_blue, ig_ref2_green, ig_ref2_red),
                   (R3_t, ig_ref3_blue, ig_ref3_green, ig_ref3_red)]}
    ylab = {"ic": r"$\mathbfit{i}_{\mathrm{conv},abc}$", "vc": r"$\mathbfit{v}_{c,abc}$",
            "ig": r"$\mathbfit{i}_{g,abc}$"}
    xlab_y = {"ic": 613, "vc": 852, "ig": 1090}
    axes = {}
    for key in ("ic", "vc", "ig"):
        ax = new_axes(col, key)
        axes[key] = ax
        style(ax, [-2, -1, 0, 1, 2], ["-2", "-1", "0", "1", "2"], (-2.25, 2.25), [150, 174.5, 180.5], dash_col)
        phases(ax, wave[key], refs[key])
        if not is_a:
            ax.hlines([1.35, -1.37], 150, 200, colors="k", linestyles=(0, (1, 3)), lw=1.6, zorder=4)
        y0, y1 = ROWY[key]
        ftext(lab_x + 2, (y0 + y1) / 2, ylab[key], fontsize=18, rotation=90)
        ftext(cx, xlab_y[key], "time (ms)", fontfamily=SERIF, fontsize=14.5)

    # qpOASES banner
    tr = blended_transform_factory(axes["ic"].transData, fig.transFigure)
    axes["ic"].add_artist(Rectangle((150, fy(403)), 50, 29 / H, transform=tr, facecolor=BANNER, lw=0,
                                    clip_on=False))
    axes["ic"].text(175, fy(389), r"$\mathtt{qpOASES}$", transform=tr, fontsize=12, ha="center", va="center")
    axes["ic"].annotate("", xy=(200, fy(405)), xytext=(150, fy(405)), xycoords=tr, textcoords=tr,
                        arrowprops=dict(arrowstyle="-|>", color="k", lw=1.0, mutation_scale=16,
                                        shrinkA=0, shrinkB=0))
    axes["ic"].add_artist(Line2D([150, 150], [fy(400), fy(410)], transform=tr, color="k", lw=1.0,
                                 clip_on=False))

    ic, vc = axes["ic"], axes["vc"]
    if is_a:
        peak(ic, 154.6, -1.70, -1.60, BLUE)
        ic.text(155.8, -1.72, r"$-1.55$", color=BLUE, fontsize=13, va="center")
        peak(ic, 175.2, -2.08, -1.96, GREEN)
        ic.text(173.4, -1.97, r"$-1.95$", color=GREEN, fontsize=13, va="center", ha="right")
        peak(ic, 178.2, -1.93, -1.82, GREEN)
        ic.text(181.0, -1.9, r"$-1.65$", color=GREEN, fontsize=13, va="center")
        peak(ic, 182.2, 1.95, 1.83, BLUE, up=False)
        ic.text(183.8, 1.83, r"$1.8$", color=BLUE, fontsize=13, va="center")
        peak(vc, 152.5, 2.2, 2.08, GREEN, up=False)
        vc.text(155.0, 2.08, r"$2$", color=GREEN, fontsize=13, va="center")
        peak(vc, 155.6, -2.07, -1.93, BLUE)
        vc.text(157.2, -1.93, r"$-2$", color=BLUE, fontsize=13, va="center")
        peak(vc, 182.4, -1.85, -1.70, GREEN)
        vc.text(183.9, -1.79, r"$-1.88$", color=GREEN, fontsize=13, va="center")
        # callouts
        fline([379, 379, 405], [571, 616, 616])
        ftext(410, 616, "IGBT stress", fontfamily=SERIF, fontsize=12.5, ha="left")
        ftext(133, 631, r"$\mathrm{large}\ X_c\ \mathrm{stress}$", fontsize=12.5, ha="right")
        fline([136, 144, 144], [631, 631, 652])
    else:
        peak(ic, 154.6, -1.58, -1.47, BLUE)
        peak(ic, 175.3, -1.63, -1.52, GREEN)
        peak(ic, 178.2, -1.68, -1.57, GREEN)
        ic.text(181.2, -1.89, r"$-1.27$", color=GREEN, fontsize=13, va="center")
        peak(ic, 182.6, 1.57, 1.46, BLUE, up=False)
        ic.text(199.4, 1.88, r"$i_{\mathrm{conv,max}} = 1.25$", fontsize=12.5, ha="right", va="center")
        peak(vc, 152.3, 1.70, 1.56, GREEN, up=False)
        vc.text(154.5, 1.70, r"$1.27$", color=GREEN, fontsize=13, va="center")
        peak(vc, 156.0, -1.61, -1.47, BLUE)
        vc.text(157.6, -1.72, r"$-1.25$", color=BLUE, fontsize=13, va="center")
        peak(vc, 182.5, -1.58, -1.44, GREEN)
        vc.text(199.4, 1.81, r"$v_{c,\mathrm{max}} = 1.25$", fontsize=12.5, ha="right", va="center")
        axes["ig"].text(199.4, 1.92, r"$i_{g,\mathrm{max}} = 1.25$", fontsize=12.5, ha="right", va="center")
        ftext(1117, 636, "bounded transients", fontfamily=SERIF, fontsize=12.5, ha="right")
        fline([995, 1006, 1006, 995], [188, 188, 274, 274])
        fline([1006, 1016], [233, 233])
        ftext(1022, 233, "smoother", fontfamily=SERIF, fontsize=13, ha="left")

    # ---------------- modulating references
    axU = new_axes(col, "ur")
    style(axU, [-1, -0.5, 0, 0.5, 1], ["-1", "-0.5", "0", "0.5", "1"], (-1.2, 1.2), [150, 174.5, 180.5],
          dash_col, hatch=True)
    axU.plot(carrier_t, carrier_v, color="0.55", ls=(0, (1, 1.5)), lw=1.0, zorder=2)
    ur = (uref_a_blue, uref_a_green, uref_a_red) if is_a else (uref_b_blue, uref_b_green, uref_b_red)
    for c, vals in zip((BLUE, GREEN, RED), ur):
        axU.plot([140, 150], [0, 0], color=c, ls=(0, (1, 1.2)), lw=2.4, zorder=3)
        axU.step(T_U, vals + [vals[-1]], where="post", color=c, lw=2.4, zorder=3)
    y0, y1 = ROWY["ur"]
    ftext(lab_x + 2, (y0 + y1) / 2, r"$\mathbfit{u}_{\mathrm{ref},abc}$", fontsize=18, rotation=90)
    ftext(cx, 1326, "time (ms)", fontfamily=SERIF, fontsize=14.5)

    # ---------------- switch positions
    axS = new_axes(col, "ua")
    yt = []
    for off in U_OFFSET:
        yt += [off + 1, off, off - 1]
    style(axS, yt, ["1", "0", "-1"] * 3, (-4.65, 4.65), [150, 174.5, 180.5], dash_col, hatch=True)
    us = (u_a_blue, u_a_green, u_a_red) if is_a else (u_b_blue, u_b_green, u_b_red)
    for c, s, off in zip((BLUE, GREEN, RED), us, U_OFFSET):
        lv = [{"+": 1, "0": 0, "-": -1}[ch] for ch in s]
        tt = 150 + U_STEP * np.arange(len(lv) + 1)
        axS.plot([140, 150], [off, off], color=c, ls=(0, (1, 1.2)), lw=2.0, zorder=3)
        axS.step(tt, np.array(lv + [lv[-1]]) + off, where="post", color=c, lw=1.5, zorder=3)
    y0, y1 = ROWY["ua"]
    ftext(lab_x + 2, (y0 + y1) / 2, r"$\mathbfit{u}_{abc}$", fontsize=18, rotation=90)
    ftext(cx, 1562, "time (ms)", fontfamily=SERIF, fontsize=14.5)
    ftext(COLX[col][1], 1349, r"$f_{\mathrm{sw}}\approx 400\,\mathrm{Hz}$", fontsize=13, ha="right")

# bottom notes
fig.add_artist(FancyArrowPatch((51 / W, fy(1561)), (125 / W, fy(1561)), transform=fig.transFigure,
                               arrowstyle="<|-|>", mutation_scale=12, color="k", lw=1.0))
fline([88, 88], [1561, 1587])
ftext(140, 1600, "the system is not controlled", fontfamily=SERIF, fontsize=12.5)
ftext(140, 1628, "i.e. operating as passive rectifier", fontfamily=SERIF, fontsize=12.5)
fline([953, 953], [1527, 1587])
ftext(953, 1604, "increase system components reliability", fontfamily=SERIF, fontsize=12.5)
ftext(953, 1631, r"$\mathrm{(i.e.\ reduce\ peaks,\ d}i/\mathrm{d}t\ \mathrm{and\ d}v/\mathrm{d}t\mathrm{)}$",
      fontsize=12.5)
ftext(262, 1673, "(a)", fontfamily=SERIF, fontsize=12.5)
ftext(888, 1673, "(b)", fontfamily=SERIF, fontsize=12.5)

fig.savefig("out.png", dpi=100)
